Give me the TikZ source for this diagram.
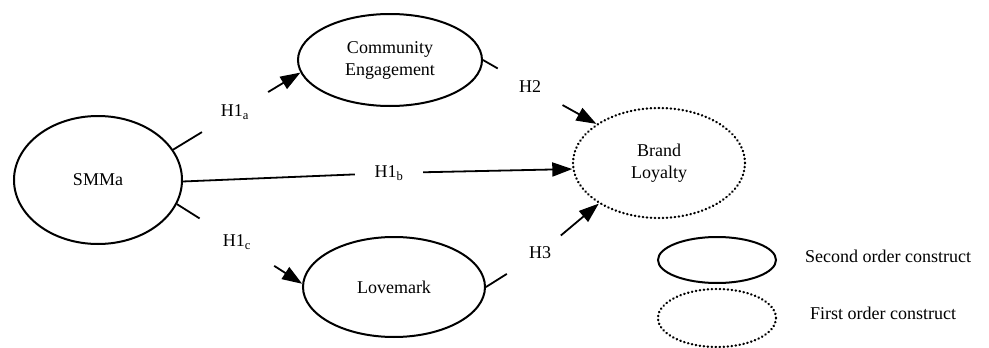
\documentclass[tikz,border=0pt]{standalone}
\usepackage{fontspec}
\setmainfont{Liberation Serif}
\usetikzlibrary{arrows.meta,shapes.geometric}
\begin{document}
\begin{tikzpicture}[x=1pt,y=-1pt,
  font=\fontsize{18}{22}\selectfont,
  construct/.style={draw, ellipse, line width=2pt, inner sep=0pt, align=center},
  firstorder/.style={construct, line width=2.4pt, dash pattern=on 0.4pt off 3.6pt, line cap=round},
  hlabel/.style={circle, inner sep=0pt},
  conn/.style={line width=1.8pt},
  arr/.style={conn, -{Triangle[length=20pt,width=14pt]}}
]
\useasboundingbox (0,0) rectangle (989,348);
% constructs
\node[construct, minimum width=168pt, minimum height=128pt] (smma) at (98,180) {SMMa};
\node[construct, minimum width=184pt, minimum height=92pt] (ce) at (390,60) {Community\\Engagement};
\node[construct, minimum width=182pt, minimum height=100pt] (lm) at (394,287) {Lovemark};
\node[firstorder, minimum width=172pt, minimum height=110pt] (bl) at (659,163) {Brand\\Loyalty};
% legend
\node[construct, minimum width=118pt, minimum height=46pt] (leg1) at (717,260) {};
\node[firstorder, minimum width=118pt, minimum height=58pt] (leg2) at (717,318) {};
\node[anchor=west, inner sep=0pt] (leg1t) at (805,256) {Second order construct};
\node[anchor=west, inner sep=0pt] (leg2t) at (810,313) {First order construct};
% hypothesis labels
\node[hlabel, minimum size=77pt] (h1a) at (235,112) {H1\textsubscript{a}};
\node[hlabel, minimum size=68pt] (h1b) at (389,173) {H1\textsubscript{b}};
\node[hlabel, minimum size=88pt] (h1c) at (237,242) {H1\textsubscript{c}};
\node[hlabel, minimum size=74pt] (h2) at (530,87) {H2};
\node[hlabel, minimum size=54pt] (h3) at (540,253) {H3};
% connectors
\draw[conn] (smma.22) -- (h1a);
\draw[arr] (h1a) -- (ce.188);
\draw[conn] (smma.-1) -- (h1b);
\draw[arr] (h1b) -- (bl.184);
\draw[conn] (smma.-17) -- (h1c);
\draw[arr] (h1c) -- (lm.178);
\draw[conn] (ce.0) -- (h2);
\draw[arr] (h2) -- (bl.148);
\draw[conn, shorten >=12pt] (lm.0) -- (h3);
\draw[arr] (h3) -- (bl.214);
\end{tikzpicture}
\end{document}
